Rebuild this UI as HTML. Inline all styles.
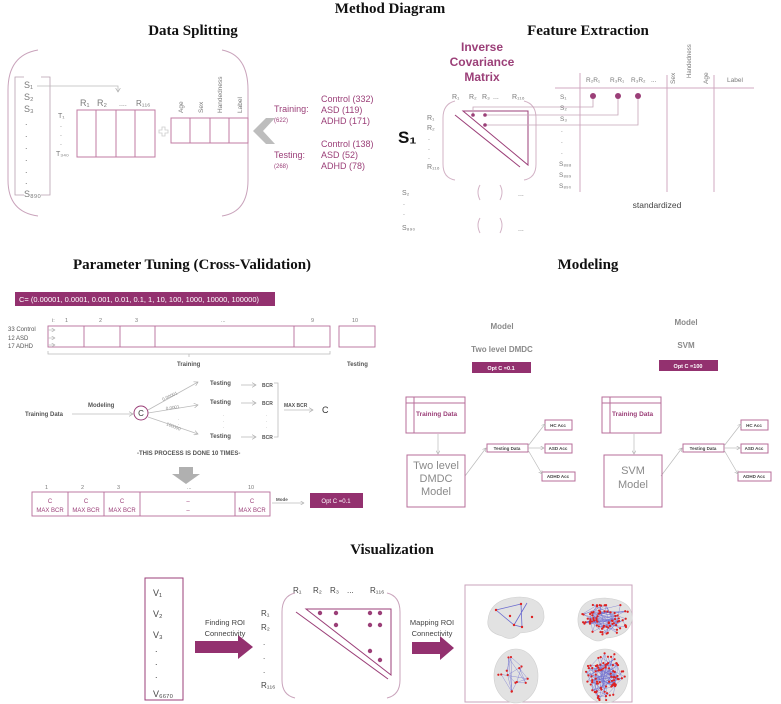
<!DOCTYPE html>
<html><head><meta charset="utf-8"><style>
html,body{margin:0;padding:0;background:#fff;}
svg{display:block;}
.t{font-family:"Liberation Serif",serif;font-weight:bold;fill:#111;text-anchor:middle;}
.s{font-family:"Liberation Sans",sans-serif;}
.g{fill:#7a7a7a;}
.p{fill:#9b3f78;}
.b{font-weight:bold;}
</style></head><body>
<svg id="sv" width="781" height="704" viewBox="0 0 781 704" xmlns="http://www.w3.org/2000/svg">
<defs>
<marker id="ag" markerWidth="6" markerHeight="6" refX="5" refY="3" orient="auto"><path d="M0,0 L5,3 L0,6" fill="none" stroke="#aaa" stroke-width="0.8"/></marker>
</defs>
<text class="t" x="390" y="13" font-size="15">Method Diagram</text>
<text class="t" x="193" y="35" font-size="15">Data Splitting</text>
<text class="t" x="588" y="35" font-size="15">Feature Extraction</text>
<text class="t" x="192" y="269" font-size="15">Parameter Tuning (Cross-Validation)</text>
<text class="t" x="588" y="269" font-size="15">Modeling</text>
<text class="t" x="392" y="554" font-size="15">Visualization</text>

<!-- DATA SPLITTING -->
<g fill="none" stroke="#c9a3bb" stroke-width="1">
<path d="M38,50 Q8,55 8,90 L8,180 Q8,212 38,216"/>
<path d="M222,50 Q248,55 248,90 L248,180 Q248,212 222,216"/>
</g>
<path d="M24,77 L15,77 L15,195 L24,195 M41,77 L50,77 L50,195 L41,195" fill="none" stroke="#b8a0b0" stroke-width="0.8"/>
<g class="s g" font-size="9">
<text x="24" y="88">S₁</text><text x="24" y="100">S₂</text><text x="24" y="112">S₃</text>
<text x="25" y="125">.</text><text x="25" y="137">.</text><text x="25" y="149">.</text><text x="25" y="161">.</text><text x="25" y="173">.</text><text x="25" y="184">.</text>
<text x="24" y="197">S₈₉₀</text>
<text x="80" y="106">R₁</text><text x="97" y="106">R₂</text><text x="119" y="106" font-size="7">....</text><text x="136" y="106" font-size="8">R₁₁₆</text>
<text x="58" y="118" font-size="7">T₁</text><text x="60" y="127" font-size="7">.</text><text x="60" y="136" font-size="7">.</text><text x="60" y="145" font-size="7">.</text><text x="56" y="156" font-size="7">T₃₄₀</text>
</g>
<path d="M37,86 L118,86 L118,92" fill="none" stroke="#bbb" stroke-width="0.8" marker-end="url(#ag)"/>
<g fill="none" stroke="#c07ba3" stroke-width="1">
<rect x="77" y="110" width="78" height="47"/><line x1="96" y1="110" x2="96" y2="157"/><line x1="116" y1="110" x2="116" y2="157"/><line x1="135" y1="110" x2="135" y2="157"/>
<rect x="171" y="118" width="77" height="25"/><line x1="190" y1="118" x2="190" y2="143"/><line x1="210" y1="118" x2="210" y2="143"/><line x1="229" y1="118" x2="229" y2="143"/>
</g>
<path d="M159,130 h3 v-3 h3 v3 h3 v3 h-3 v3 h-3 v-3 h-3z" fill="none" stroke="#ccc" stroke-width="0.8"/>
<g class="s g" font-size="6.5">
<text transform="translate(183,113) rotate(-90)">Age</text>
<text transform="translate(203,113) rotate(-90)">Sex</text>
<text transform="translate(222,113) rotate(-90)">Handedness</text>
<text transform="translate(242,113) rotate(-90)">Label</text>
</g>
<path d="M253,131 L266,118 L275,118 L263,131 L275,144 L266,144 Z" fill="#bdbdbd"/>
<g class="s p" font-size="9">
<text x="274" y="112">Training:</text><text x="274" y="122" font-size="6">(622)</text>
<text x="321" y="102">Control (332)</text><text x="321" y="113">ASD (119)</text><text x="321" y="124">ADHD (171)</text>
<text x="274" y="158">Testing:</text><text x="274" y="168" font-size="6">(268)</text>
<text x="321" y="147">Control (138)</text><text x="321" y="158">ASD (52)</text><text x="321" y="169">ADHD (78)</text>
</g>

<!-- FEATURE EXTRACTION -->
<g class="s p b" font-size="12" text-anchor="middle" fill="#9b3f78">
<text x="482" y="51">Inverse</text><text x="482" y="66">Covariance</text><text x="482" y="81">Matrix</text>
</g>
<text class="s b" x="398" y="143" font-size="17" fill="#111">S₁</text>
<g class="s g" font-size="7">
<text x="452" y="99">R₁</text><text x="469" y="99">R₂</text><text x="482" y="99">R₃</text><text x="493" y="99">...</text><text x="512" y="99">R₁₁₆</text>
<text x="427" y="120">R₁</text><text x="427" y="130">R₂</text><text x="428" y="140">.</text><text x="428" y="150">.</text><text x="428" y="159">.</text><text x="427" y="169">R₁₁₆</text>
<text x="402" y="195">S₂</text><text x="403" y="205">.</text><text x="403" y="215">.</text><text x="402" y="230">S₈₉₀</text>
<text x="518" y="196">...</text><text x="518" y="231">...</text>
</g>
<g fill="none" stroke="#d3b3c6" stroke-width="1">
<path d="M455,101 Q443,104 443,118 L443,164 Q443,178 455,180"/>
<path d="M524,101 Q536,104 536,118 L536,164 Q536,178 524,180"/>
<path d="M480,185 Q476,192 480,200 M500,185 Q504,192 500,200 M480,218 Q476,225 480,233 M500,218 Q504,225 500,233"/>
</g>
<g fill="none" stroke="#9b3f78" stroke-width="1">
<path d="M463,111 L528,111 L528,165 Z"/><line x1="455" y1="115" x2="520" y2="167"/>
</g>
<g fill="none" stroke="#c5a5b8" stroke-width="0.8">
<path d="M473,115 L473,107 L593,107 L593,99"/>
<path d="M485,115 L618,115 L618,99"/>
<path d="M485,125 L638,125 L638,99"/>
</g>
<g fill="#9b3f78"><circle cx="473" cy="115" r="1.8"/><circle cx="485" cy="115" r="1.8"/><circle cx="485" cy="125" r="1.8"/>
<circle cx="593" cy="96" r="3"/><circle cx="618" cy="96" r="3"/><circle cx="638" cy="96" r="3"/></g>
<g stroke="#d0a8c0" stroke-width="1"><line x1="555" y1="88" x2="754" y2="88"/><line x1="580" y1="73" x2="580" y2="192"/><line x1="667" y1="75" x2="667" y2="192"/><line x1="714" y1="75" x2="714" y2="192"/></g>
<g class="s g" font-size="6.5">
<text x="586" y="82">R₂R₁</text><text x="610" y="82">R₃R₁</text><text x="631" y="82">R₃R₂</text><text x="651" y="82">...</text>
<text transform="translate(675,84) rotate(-90)">Sex</text><text transform="translate(691,78) rotate(-90)" font-size="6">Handedness</text><text transform="translate(708,84) rotate(-90)">Age</text>
<text x="727" y="82">Label</text>
<text x="560" y="99">S₁</text><text x="560" y="110">S₂</text><text x="560" y="121">S₃</text><text x="561" y="132">.</text><text x="561" y="143">.</text><text x="561" y="154">.</text>
<text x="559" y="166">S₈₈₈</text><text x="559" y="177">S₈₈₉</text><text x="559" y="188">S₈₉₀</text>
</g>
<text class="s" x="657" y="208" font-size="8.5" fill="#444" text-anchor="middle">standardized</text>

<!-- PARAMETER TUNING -->
<rect x="15" y="292" width="260" height="14" fill="#93316f"/>
<text class="s" x="19" y="302" font-size="7.5" fill="#fff">C= (0.00001, 0.0001, 0.001, 0.01, 0.1, 1, 10, 100, 1000, 10000, 100000)</text>
<g class="s g" font-size="5.5">
<text x="52" y="322">i:</text><text x="65" y="322">1</text><text x="99" y="322">2</text><text x="135" y="322">3</text><text x="221" y="322">...</text><text x="311" y="322">9</text><text x="352" y="322">10</text>
</g>
<g fill="none" stroke="#b76d9a" stroke-width="0.9">
<rect x="48" y="326" width="282" height="21"/><line x1="84" y1="326" x2="84" y2="347"/><line x1="120" y1="326" x2="120" y2="347"/><line x1="155" y1="326" x2="155" y2="347"/><line x1="294" y1="326" x2="294" y2="347"/>
<rect x="339" y="326" width="36" height="21"/>
</g>
<g class="s" font-size="6" fill="#555"><text x="8" y="331">33 Control</text><text x="8" y="340">12 ASD</text><text x="8" y="348">17 ADHD</text></g>
<g stroke="#bbb" stroke-width="0.7" marker-end="url(#ag)"><line x1="48" y1="330" x2="55" y2="330"/><line x1="48" y1="338" x2="55" y2="338"/><line x1="48" y1="345" x2="55" y2="345"/></g>
<path d="M48,351 L48,354 L330,354 L330,351 M189,354 L189,357" fill="none" stroke="#bbb" stroke-width="0.8"/>
<g class="s b" font-size="6" fill="#555"><text x="177" y="366">Training</text><text x="347" y="366">Testing</text>
<text x="25" y="416">Training Data</text><text x="88" y="407">Modeling</text>
<text x="210" y="385">Testing</text><text x="210" y="404">Testing</text><text x="210" y="438">Testing</text>
<text x="262" y="387" font-size="5">BCR</text><text x="262" y="405" font-size="5">BCR</text><text x="262" y="439" font-size="5">BCR</text>
<text x="284" y="407" font-size="5">MAX BCR</text>
<text x="137" y="455" font-size="6">-THIS PROCESS IS DONE 10 TIMES-</text>
</g>
<g stroke="#bbb" stroke-width="0.8" fill="none">
<line x1="72" y1="414" x2="133" y2="414" marker-end="url(#ag)"/>
<line x1="148" y1="410" x2="198" y2="382" marker-end="url(#ag)"/>
<line x1="148" y1="413" x2="198" y2="405" marker-end="url(#ag)"/>
<line x1="148" y1="417" x2="198" y2="434" marker-end="url(#ag)"/>
<line x1="241" y1="385" x2="256" y2="385" marker-end="url(#ag)"/><line x1="241" y1="403" x2="256" y2="403" marker-end="url(#ag)"/><line x1="241" y1="437" x2="256" y2="437" marker-end="url(#ag)"/>
<path d="M274,383 L278,383 L278,437 L274,437"/>
<line x1="284" y1="410" x2="313" y2="410" marker-end="url(#ag)"/>
</g>
<g class="s" font-size="4.5" fill="#888"><text transform="translate(163,401) rotate(-25)">0.00001</text><text transform="translate(166,410) rotate(-8)">0.0001</text><text transform="translate(166,425) rotate(22)">100000</text>
<text x="223" y="416">.</text><text x="223" y="422">.</text><text x="223" y="428">.</text><text x="266" y="416">.</text><text x="266" y="422">.</text><text x="266" y="428">.</text><text x="178" y="420">.</text><text x="178" y="425">.</text></g>
<circle cx="141" cy="413" r="7" fill="#fff" stroke="#9b3f78" stroke-width="1"/>
<text class="s" x="141" y="416" font-size="8" text-anchor="middle" fill="#333">C</text>
<text class="s" x="322" y="413" font-size="9" fill="#333">C</text>
<path d="M179,467 L193,467 L193,474 L200,474 L186,484 L172,474 L179,474 Z" fill="#b0b0b0"/>
<g class="s g" font-size="5.5"><text x="45" y="489">1</text><text x="81" y="489">2</text><text x="117" y="489">3</text><text x="187" y="489">...</text><text x="248" y="489">10</text></g>
<g fill="none" stroke="#b76d9a" stroke-width="0.9"><rect x="32" y="492" width="238" height="24"/><line x1="68" y1="492" x2="68" y2="516"/><line x1="104" y1="492" x2="104" y2="516"/><line x1="140" y1="492" x2="140" y2="516"/><line x1="235" y1="492" x2="235" y2="516"/></g>
<g class="s p" font-size="6" text-anchor="middle">
<text x="50" y="503">C</text><text x="50" y="512">MAX BCR</text><text x="86" y="503">C</text><text x="86" y="512">MAX BCR</text><text x="122" y="503">C</text><text x="122" y="512">MAX BCR</text>
<text x="188" y="503">–</text><text x="188" y="512">–</text><text x="252" y="503">C</text><text x="252" y="512">MAX BCR</text></g>
<text class="s b" x="276" y="501" font-size="4.5" fill="#555">Mode</text>
<line x1="272" y1="503" x2="304" y2="503" stroke="#bbb" stroke-width="0.7" marker-end="url(#ag)"/>
<rect x="310" y="493" width="53" height="15" fill="#93316f"/>
<text class="s" x="336" y="503" font-size="6" fill="#fff" text-anchor="middle">Opt C =0.1</text>

<!-- MODELING -->
<g class="s b" fill="#8a8a8a" text-anchor="middle" font-size="8">
<text x="502" y="329">Model</text><text x="502" y="352">Two level DMDC</text>
<text x="686" y="325">Model</text><text x="686" y="348">SVM</text></g>
<rect x="472" y="362" width="59" height="11" fill="#93316f"/><text class="s b" x="501" y="370" font-size="5.5" fill="#fff" text-anchor="middle">Opt C =0.1</text>
<rect x="659" y="360" width="59" height="11" fill="#93316f"/><text class="s b" x="688" y="368" font-size="5.5" fill="#fff" text-anchor="middle">Opt C =100</text>
<g id="mdl">
<g fill="none" stroke="#b76d9a" stroke-width="1"><rect x="406" y="397" width="59" height="36"/><line x1="414" y1="397" x2="414" y2="433"/><line x1="406" y1="403" x2="465" y2="403"/>
<rect x="487" y="444" width="41" height="8"/><rect x="545" y="420" width="27" height="10"/><rect x="545" y="444" width="27" height="9"/><rect x="542" y="472" width="33" height="9"/></g>
<text class="s b p" x="416" y="416" font-size="6.5">Training Data</text>
<g stroke="#bbb" stroke-width="0.7" fill="none"><line x1="438" y1="434" x2="438" y2="454" marker-end="url(#ag)"/>
<line x1="465" y1="476" x2="486" y2="448" marker-end="url(#ag)"/>
<line x1="528" y1="446" x2="545" y2="424" marker-end="url(#ag)"/><line x1="528" y1="448" x2="544" y2="448" marker-end="url(#ag)"/><line x1="528" y1="450" x2="542" y2="474" marker-end="url(#ag)"/></g>
<g class="s b" font-size="4.5" fill="#444" text-anchor="middle"><text x="507" y="450">Testing Data</text><text x="558" y="427">HC Acc</text><text x="558" y="450">ASD Acc</text><text x="558" y="478">ADHD Acc</text></g>
</g>
<use href="#mdl" transform="translate(196,0)"/>
<g fill="none" stroke="#b76d9a" stroke-width="1"><rect x="407" y="455" width="58" height="52"/><rect x="604" y="455" width="58" height="52"/></g>
<g class="s" font-size="11" fill="#8a8a8a" text-anchor="middle"><text x="436" y="469">Two level</text><text x="436" y="482">DMDC</text><text x="436" y="495">Model</text>
<text x="633" y="474">SVM</text><text x="633" y="488">Model</text></g>

<!-- VISUALIZATION -->
<rect x="145" y="578" width="38" height="122" fill="none" stroke="#9b3f78" stroke-width="1"/>
<g class="s" font-size="9" fill="#444"><text x="153" y="596">V₁</text><text x="153" y="617">V₂</text><text x="153" y="638">V₃</text><text x="155" y="652">.</text><text x="155" y="665">.</text><text x="155" y="678">.</text><text x="153" y="697">V₆₆₇₀</text></g>
<path d="M195,641 L238,641 L238,635 L253,647 L238,659 L238,653 L195,653 Z" fill="#93316f"/>
<path d="M412,642 L440,642 L440,636 L454,648 L440,660 L440,654 L412,654 Z" fill="#93316f"/>
<g class="s" font-size="7.5" fill="#444" text-anchor="middle"><text x="225" y="625">Finding ROI</text><text x="225" y="636">Connectivity</text><text x="432" y="625">Mapping ROI</text><text x="432" y="636">Connectivity</text></g>
<g class="s" font-size="8" fill="#444"><text x="293" y="593">R₁</text><text x="313" y="593">R₂</text><text x="330" y="593">R₃</text><text x="347" y="593">...</text><text x="370" y="593">R₁₁₆</text>
<text x="261" y="616">R₁</text><text x="261" y="630">R₂</text><text x="263" y="645">.</text><text x="263" y="659">.</text><text x="263" y="673">.</text><text x="261" y="688">R₁₁₆</text></g>
<g fill="none" stroke="#c9a3bb" stroke-width="1"><path d="M295,593 Q282,596 282,612 L282,680 Q282,695 295,698"/><path d="M387,593 Q400,596 400,612 L400,680 Q400,695 387,698"/></g>
<g fill="none" stroke="#9b3f78" stroke-width="1"><path d="M306,609 L391,609 L391,675 Z"/><line x1="296" y1="612" x2="388" y2="679"/></g>
<g fill="#9b3f78"><circle cx="320" cy="613" r="2.2"/><circle cx="336" cy="613" r="2.2"/><circle cx="370" cy="613" r="2.2"/><circle cx="380" cy="613" r="2.2"/><circle cx="336" cy="625" r="2.2"/><circle cx="370" cy="625" r="2.2"/><circle cx="380" cy="625" r="2.2"/><circle cx="370" cy="651" r="2.2"/><circle cx="380" cy="660" r="2.2"/></g>
<rect x="465" y="585" width="167" height="117" fill="none" stroke="#c9a3bb" stroke-width="1"/>
<g fill="#e2e2e2" stroke="#cfcfcf" stroke-width="0.6">
<path d="M488,620 Q490,598 520,597 Q545,598 544,618 Q542,632 520,633 Q512,642 502,636 Q486,632 488,620Z"/>
<path d="M578,618 Q580,598 605,598 Q634,600 632,620 Q628,637 606,638 Q598,644 590,638 Q577,632 578,618Z"/>
<ellipse cx="516" cy="676" rx="22" ry="27"/>
<ellipse cx="605" cy="676" rx="23" ry="27"/>
</g>
<g id="br"></g>
<g stroke="#6a6acf" stroke-width="0.8" fill="none"><path d="M496,610 L514,625 L522,627 L521,604 L496,610 M514,625 L527,603"/></g>
<g fill="#d22"><circle cx="496" cy="610" r="1.2"/><circle cx="521" cy="604" r="1.2"/><circle cx="514" cy="625" r="1.2"/><circle cx="522" cy="627" r="1.2"/><circle cx="510" cy="616" r="1.2"/><circle cx="532" cy="617" r="1.2"/></g>
</svg>
<script>
(function(){var s=7;function r(){s=(s*9301+49297)%233280;return s/233280;}
var g=document.getElementById('br'),h='';
function brain(cx,cy,rx,ry,nl,nd){var pts=[];for(var i=0;i<nd;i++){var a=r()*6.283,d=0.3+0.7*r();pts.push([cx+Math.cos(a)*rx*d,cy+Math.sin(a)*ry*d]);}
for(var j=0;j<nl;j++){var p=pts[Math.floor(r()*pts.length)],q=pts[Math.floor(r()*pts.length)];h+='<line x1="'+p[0]+'" y1="'+p[1]+'" x2="'+q[0]+'" y2="'+q[1]+'" stroke="#6a6acf" stroke-width="0.5" opacity="0.7"/>';}
for(var k=0;k<pts.length;k++)h+='<circle cx="'+pts[k][0]+'" cy="'+pts[k][1]+'" r="1.1" fill="#d22"/>';}
brain(605,618,25,17,90,80);brain(605,676,20,25,110,90);brain(514,672,16,20,18,14);
g.innerHTML=h;})();
</script>
</body></html>
